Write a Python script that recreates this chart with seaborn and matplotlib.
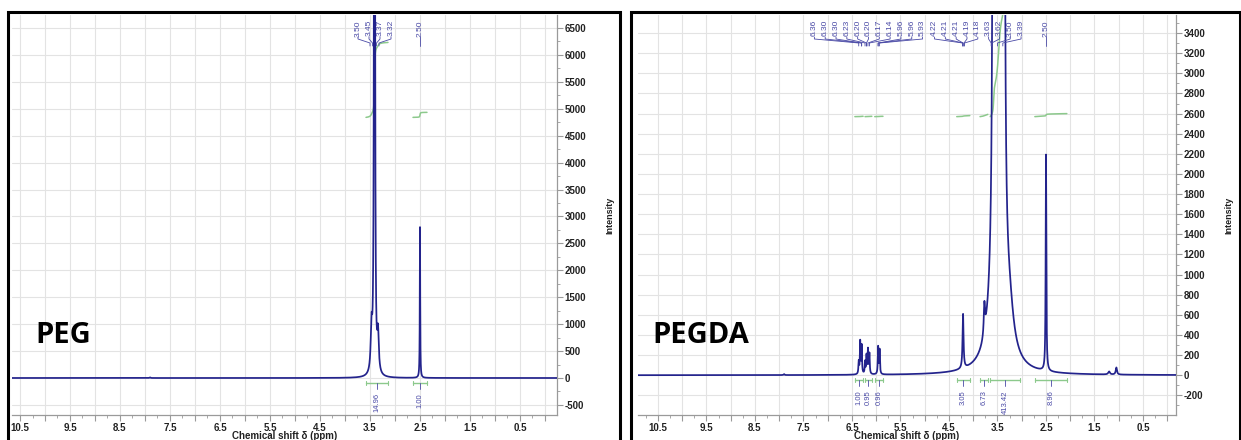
import numpy as np
import pandas as pd
import matplotlib
matplotlib.use("Agg")
import matplotlib.pyplot as plt
import matplotlib.transforms as mtransforms
from matplotlib.patches import Rectangle
from matplotlib.ticker import MultipleLocator, FuncFormatter
import seaborn as sns

# ---------------- data ----------------
# PEG spectrum: peak table (ppm, height, half-width)
peg_peak_ppm = [7.90, 3.47, 3.41, 3.34, 2.50]
peg_peak_height = [12, 800, 40000, 700, 2800]
peg_peak_hwhm = [0.010, 0.018, 0.006, 0.018, 0.005]
peg_labels = ["3.50", "3.45", "3.37", "3.32", "2.50"]
peg_int_from = [3.58, 2.64]
peg_int_to = [3.14, 2.36]
peg_int_values = ["14.96", "1.00"]

# PEGDA spectrum
pegda_peak_ppm = [7.90, 6.36, 6.33, 6.30, 6.23, 6.20, 6.17, 6.14, 5.96, 5.93,
                  4.21, 3.77, 3.58, 3.475, 3.37, 3.25, 2.50, 1.20, 1.05]
pegda_peak_height = [10, 120, 320, 280, 120, 180, 240, 200, 270, 240,
                     540, 300, 30000, 20000, 30000, 300, 2150, 30, 70]
pegda_peak_hwhm = [0.010, 0.008, 0.008, 0.008, 0.008, 0.008, 0.008, 0.008, 0.008, 0.008,
                   0.012, 0.015, 0.008, 0.040, 0.008, 0.100, 0.008, 0.020, 0.015]
pegda_labels = ["6.36", "6.30", "6.30", "6.23", "6.20", "6.20", "6.17", "6.14",
                "5.96", "5.96", "5.93", "4.22", "4.21", "4.21", "4.19", "4.18",
                "3.63", "3.62", "3.50", "3.39", "2.50"]
pegda_int_from = [6.44, 6.23, 6.03, 4.34, 3.86, 3.65, 2.73]
pegda_int_to = [6.27, 6.09, 5.86, 4.07, 3.70, 3.04, 2.07]
pegda_int_values = ["1.00", "0.95", "0.96", "3.05", "6.73", "413.42", "8.96"]

x_tick_labels = [10.5, 9.5, 8.5, 7.5, 6.5, 5.5, 4.5, 3.5, 2.5, 1.5, 0.5]

# ---------------- style ----------------
sns.set_theme(style="white")
plt.rcParams["font.family"] = ["Liberation Sans", "DejaVu Sans"]

NAVY = "#23238c"
LABEL_BLUE = "#4a4aa6"
GREEN = "#8cc98c"
GRID = "#e3e3e3"
SPINE = "#9a9a9a"

W, H = 1241, 440
fig = plt.figure(figsize=(W / 100, H / 100), dpi=100)

AX_TOP, AX_BOT = 15, 415
AX_H = AX_BOT - AX_TOP


def spectrum(grid, pos, hgt, hw):
    y = np.zeros_like(grid)
    for p, h, w in zip(pos, hgt, hw):
        y += h * w ** 2 / ((grid - p) ** 2 + w ** 2)
    return y


def spread_labels(pos, s):
    clusters = []
    for p in pos:
        clusters.append([p])
        while len(clusters) > 1:
            a, b = clusters[-2], clusters[-1]
            a_last = np.mean(a) - (len(a) - 1) / 2 * s
            b_first = np.mean(b) + (len(b) - 1) / 2 * s
            if a_last - b_first < s:
                clusters[-2] = a + b
                clusters.pop()
            else:
                break
    out = []
    for c in clusters:
        m, n = np.mean(c), len(c)
        out += [m + ((n - 1) / 2 - i) * s for i in range(n)]
    return out


def make_panel(x0, x1, xlim, ylim, ymaj, ymin_, pos, hgt, hw, labels, spacing,
               ifrom, ito, ivals, int_base, int_unit, name, name_pos):
    ax = fig.add_axes([x0 / W, 1 - AX_BOT / H, (x1 - x0) / W, AX_H / H])
    grid = np.linspace(11.2, -0.5, 30000)
    inten = spectrum(grid, pos, hgt, hw)
    df = pd.DataFrame({"ppm": grid, "intensity": inten})
    sns.lineplot(data=df, x="ppm", y="intensity", ax=ax, color=NAVY, lw=1.25,
                 sort=False, estimator=None, zorder=3)

    # integral curves
    for f, t, v in zip(ifrom, ito, ivals):
        m = (grid <= f) & (grid >= t)
        xs, ys = grid[m], inten[m]
        cum = np.concatenate([[0], np.cumsum((ys[1:] + ys[:-1]) / 2 * np.abs(np.diff(xs)))])
        cum = cum / cum[-1] * float(v) * int_unit + int_base
        ax.plot(xs, cum, color=GREEN, lw=1.1, zorder=2)

    ax.set_xlim(*xlim)
    ax.set_ylim(*ylim)
    ax.set_xlabel("Chemical shift δ (ppm)", fontsize=7, fontweight="bold", labelpad=-1.5, color="#222222")
    ax.set_ylabel("Intensity", fontsize=6.5, fontweight="bold", labelpad=14, color="#222222")
    ax.yaxis.set_label_position("right")
    ax.yaxis.tick_right()

    ax.xaxis.set_major_locator(MultipleLocator(0.5))
    ax.xaxis.set_minor_locator(MultipleLocator(0.25))
    ax.xaxis.set_major_formatter(FuncFormatter(
        lambda v, p: (f"{v:.1f}" if any(abs(v - t) < 1e-6 for t in x_tick_labels) else "")))
    ax.yaxis.set_major_locator(MultipleLocator(ymaj))
    ax.yaxis.set_minor_locator(MultipleLocator(ymin_))
    ax.yaxis.set_major_formatter(FuncFormatter(lambda v, p: f"{int(round(v))}"))

    ax.tick_params(axis="both", which="major", labelsize=7, colors=SPINE, labelcolor="#222222",
                   length=4, width=0.8, pad=1.5)
    ax.tick_params(axis="both", which="minor", colors=SPINE, length=2, width=0.6)
    ax.tick_params(axis="x", which="both", bottom=True, top=False)
    ax.tick_params(axis="y", which="both", right=True, left=False)
    for lab in ax.get_xticklabels() + ax.get_yticklabels():
        lab.set_fontweight("bold")

    ax.grid(True, which="major", color=GRID, lw=0.8)
    ax.set_axisbelow(True)
    for s in ["top", "left"]:
        ax.spines[s].set_visible(False)
    for s in ["bottom", "right"]:
        ax.spines[s].set_color(SPINE)
        ax.spines[s].set_linewidth(0.9)

    trans = mtransforms.blended_transform_factory(ax.transData, ax.transAxes)
    px = 1.0 / AX_H

    # peak labels
    peaks = [float(l) for l in labels]
    lxs = spread_labels(peaks, spacing)
    y_top = 1 - 5 * px
    y_b = 1 - 22 * px
    for lab, p, lx in zip(labels, peaks, lxs):
        ax.text(lx, y_top, lab, rotation=90, ha="center", va="top", transform=trans,
                fontsize=6, color=LABEL_BLUE, zorder=5)
        ax.plot([lx, lx, p, p], [y_b, y_b - 2 * px, y_b - 6 * px, y_b - 9 * px],
                transform=trans, color=LABEL_BLUE, lw=0.6, zorder=5, clip_on=False)

    # integration bars
    f0 = (0 - ylim[0]) / (ylim[1] - ylim[0])
    yb = f0 - 5 * px
    for f, t, v in zip(ifrom, ito, ivals):
        c = (f + t) / 2
        ax.plot([f, t], [yb, yb], transform=trans, color=GREEN, lw=1.0, zorder=4)
        for e in (f, t):
            ax.plot([e, e], [yb - 2 * px, yb + 2 * px], transform=trans, color=GREEN, lw=0.8, zorder=4)
        ax.plot([c, c], [yb, yb - 6 * px], transform=trans, color=LABEL_BLUE, lw=0.6, zorder=4)
        ax.text(c, yb - 10 * px, v, rotation=90, ha="center", va="top", transform=trans,
                fontsize=5.5, color=LABEL_BLUE, zorder=5)

    ax.text(name_pos[0], name_pos[1], name, transform=ax.transAxes, fontsize=21,
            fontweight="bold", family=["Open Sans", "DejaVu Sans"], color="black",
            ha="left", va="baseline")
    return ax


make_panel(12, 557, (10.66, -0.24), (-687, 6741), 500, 250,
           peg_peak_ppm, peg_peak_height, peg_peak_hwhm, peg_labels, 0.22,
           peg_int_from, peg_int_to, peg_int_values, 4840, 93, "PEG", (0.042, 0.18))

make_panel(638, 1176, (10.91, -0.18), (-395, 3580), 200, 100,
           pegda_peak_ppm, pegda_peak_height, pegda_peak_hwhm, pegda_labels, 0.223,
           pegda_int_from, pegda_int_to, pegda_int_values, 2570, 3.35, "PEGDA", (0.026, 0.18))

# panel frames
for (a, b) in [(8, 620), (631, 1240)]:
    fig.add_artist(Rectangle((a / W, -0.02), (b - a) / W, 1 - 12 / H + 0.02,
                             transform=fig.transFigure, fill=False, ec="black", lw=2.2))

fig.savefig("out.png", dpi=100, facecolor="white")
